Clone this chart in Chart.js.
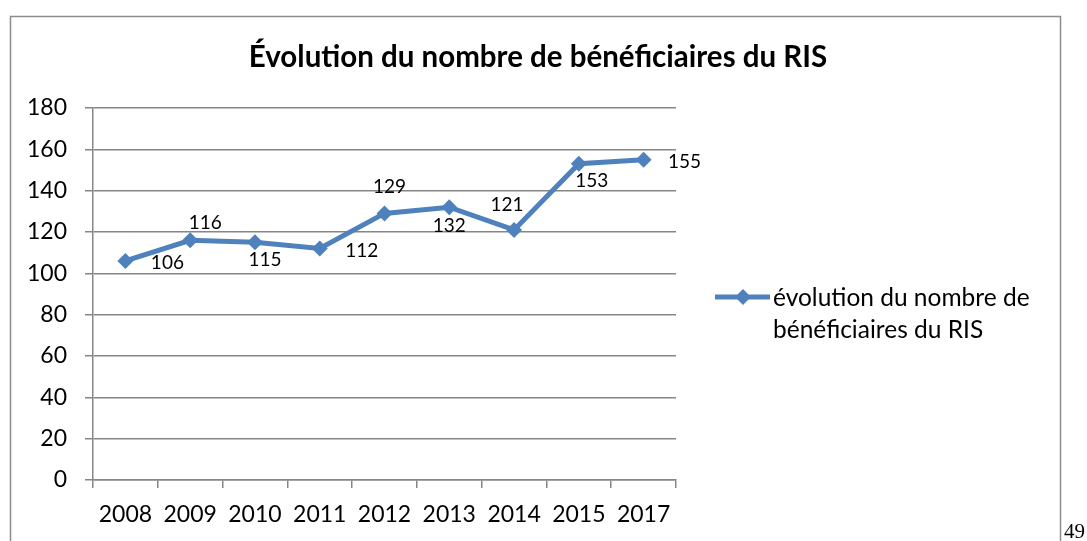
<!DOCTYPE html>
<html>
<head>
<meta charset="utf-8">
<script src="https://cdn.jsdelivr.net/npm/chart.js@4"></script>
<style>
  html, body { margin: 0; padding: 0; background: #fff; }
  #wrap { width: 1087px; height: 541px; position: relative; }
</style>
</head>
<body>
<div id="wrap"><canvas id="c" width="1087" height="541"></canvas></div>
<script>
const categories = ["2008", "2009", "2010", "2011", "2012", "2013", "2014", "2015", "2017"];
const beneficiaires = [106, 116, 115, 112, 129, 132, 121, 153, 155];
const seriesName = "évolution du nombre de bénéficiaires du RIS";
const legendLines = ["évolution du nombre de", "bénéficiaires du RIS"];
const chartTitle = "Évolution du nombre de bénéficiaires du RIS";
const pageNumber = "49";

const FONT = "Lato, 'Open Sans', sans-serif";
const LINE = "#4F81BD";
const GRID = "#868686";

// label offsets relative to each point (style only)
const labelOffsets = [[42,2],[15,-17],[10,18],[42,2],[5,-27],[0,19],[-7,-25],[13,17],[41,2]];

const decorPlugin = {
  id: 'decor',
  beforeDraw(chart) {
    const ctx = chart.ctx;
    ctx.save();
    ctx.fillStyle = '#fff';
    ctx.fillRect(0, 0, chart.width, chart.height);
    ctx.strokeStyle = '#8c8c8c';
    ctx.lineWidth = 1.5;
    ctx.strokeRect(10.5, 16.5, 1050, 600);
    ctx.fillStyle = '#000';
    ctx.font = "21px 'Liberation Serif', serif";
    ctx.textBaseline = 'alphabetic';
    ctx.textAlign = 'left';
    ctx.fillText(pageNumber, 1064, 538);
    // title
    ctx.font = "bold 29.5px " + FONT;
    ctx.textAlign = 'center';
    ctx.textBaseline = 'alphabetic';
    ctx.fillText(chartTitle, 538, 67);
    ctx.restore();
  },
  afterDatasetsDraw(chart) {
    const ctx = chart.ctx;
    const meta = chart.getDatasetMeta(0);
    ctx.save();
    ctx.fillStyle = '#000';
    ctx.font = "19px " + FONT;
    ctx.textAlign = 'center';
    ctx.textBaseline = 'middle';
    meta.data.forEach((pt, i) => {
      const off = labelOffsets[i];
      ctx.fillText(String(chart.data.datasets[0].data[i]), pt.x + off[0], pt.y + off[1]);
    });
    // legend
    const lx = 715, ly = 297;
    ctx.strokeStyle = LINE;
    ctx.lineWidth = 5;
    ctx.beginPath();
    ctx.moveTo(lx, ly);
    ctx.lineTo(lx + 55, ly);
    ctx.stroke();
    ctx.fillStyle = LINE;
    ctx.beginPath();
    const cx = lx + 28, r = 8;
    ctx.moveTo(cx, ly - r); ctx.lineTo(cx + r, ly); ctx.lineTo(cx, ly + r); ctx.lineTo(cx - r, ly);
    ctx.closePath(); ctx.fill();
    ctx.fillStyle = '#000';
    ctx.font = "24.5px " + FONT;
    ctx.textAlign = 'left';
    ctx.textBaseline = 'middle';
    ctx.fillText(legendLines[0], 773, 298);
    ctx.fillText(legendLines[1], 773, 330);
    ctx.restore();
  }
};

new Chart(document.getElementById('c'), {
  type: 'line',
  data: {
    labels: categories,
    datasets: [{
      label: seriesName,
      data: beneficiaires,
      borderColor: LINE,
      backgroundColor: LINE,
      borderWidth: 5,
      pointStyle: 'rectRot',
      pointRadius: 8,
      pointHoverRadius: 8,
      pointBackgroundColor: LINE,
      pointBorderColor: LINE,
      pointBorderWidth: 0,
      tension: 0,
      fill: false
    }]
  },
  options: {
    responsive: false,
    animation: false,
    events: [],
    layout: { padding: { left: 0, right: 411, top: 108, bottom: 0 } },
    plugins: {
      legend: { display: false },
      tooltip: { enabled: false },
      title: { display: false }
    },
    scales: {
      x: {
        type: 'category',
        offset: true,
        grid: { offset: true, drawOnChartArea: false, drawTicks: true, tickLength: 8, color: GRID, lineWidth: 1.5 },
        border: { display: true, color: GRID, width: 1.5 },
        ticks: { color: '#000', font: { family: FONT, size: 23 }, padding: 13, maxRotation: 0, autoSkip: false },
        afterFit(scale) { scale.height = 61; }
      },
      y: {
        min: 0, max: 180,
        ticks: { stepSize: 20, color: '#000', font: { family: FONT, size: 23 }, padding: 18 },
        grid: { color: GRID, lineWidth: 1.5, tickLength: 8, drawTicks: true },
        border: { display: true, color: GRID, width: 1.5 },
        afterFit(scale) { scale.width = 93; }
      }
    }
  },
  plugins: [decorPlugin]
});
</script>
</body>
</html>
